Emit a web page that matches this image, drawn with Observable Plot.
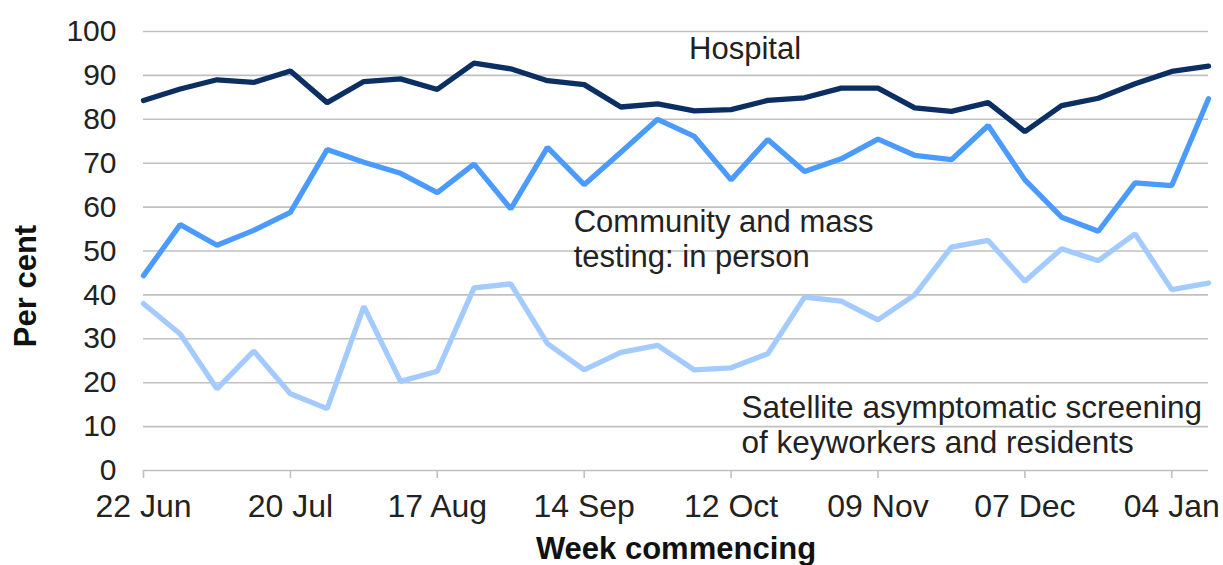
<!DOCTYPE html>
<html>
<head>
<meta charset="utf-8">
<script src="https://cdn.jsdelivr.net/npm/d3@7"></script>
<script src="https://cdn.jsdelivr.net/npm/@observablehq/plot@0.6"></script>
<style>
  html, body { margin: 0; padding: 0; background: white; }
</style>
</head>
<body>
<div id="chart"></div>
<script>
const weeks = ["2020-06-22","2020-06-29","2020-07-06","2020-07-13","2020-07-20","2020-07-27","2020-08-03","2020-08-10","2020-08-17","2020-08-24","2020-08-31","2020-09-07","2020-09-14","2020-09-21","2020-09-28","2020-10-05","2020-10-12","2020-10-19","2020-10-26","2020-11-02","2020-11-09","2020-11-16","2020-11-23","2020-11-30","2020-12-07","2020-12-14","2020-12-21","2020-12-28","2021-01-04","2021-01-11"];
const hospital = [84.3, 86.9, 89.0, 88.4, 91.0, 83.8, 88.6, 89.2, 86.8, 92.8, 91.5, 88.8, 87.9, 82.8, 83.5, 81.9, 82.2, 84.3, 84.9, 87.1, 87.1, 82.6, 81.8, 83.8, 77.2, 83.1, 84.8, 88.1, 90.9, 92.1];
const community = [44.4, 56.0, 51.3, 54.7, 58.8, 73.1, 70.2, 67.7, 63.3, 69.8, 59.6, 73.6, 65.1, 72.5, 80.0, 76.1, 66.2, 75.4, 68.1, 71.0, 75.5, 71.8, 70.8, 78.6, 66.2, 57.7, 54.5, 65.5, 64.9, 84.7];
const satellite = [38.0, 31.1, 18.6, 27.2, 17.5, 14.1, 37.4, 20.3, 22.6, 41.6, 42.5, 28.9, 22.9, 26.9, 28.5, 22.9, 23.4, 26.6, 39.5, 38.6, 34.3, 40.0, 50.9, 52.4, 43.1, 50.5, 47.8, 53.9, 41.2, 42.7];
const xTickLabels = ["2020-06-22","2020-07-20","2020-08-17","2020-09-14","2020-10-12","2020-11-09","2020-12-07","2021-01-04"];
const yTicks = [0, 10, 20, 30, 40, 50, 60, 70, 80, 90, 100];
const seriesNames = ["Hospital", "Community and mass\ntesting: in person", "Satellite asymptomatic screening\nof keyworkers and residents"];

const parse = d3.utcParse("%Y-%m-%d");
const dates = weeks.map(parse);
const tickDates = xTickLabels.map(parse);
const rows = (vals) => vals.map((v, i) => ({week: dates[i], value: v}));

const font = "Liberation Sans, Arial, Helvetica, sans-serif";
const textColor = "#222";

const chart = Plot.plot({
  width: 1223,
  height: 565,
  marginLeft: 143,
  marginRight: 15,
  marginTop: 31,
  marginBottom: 95,
  style: {fontFamily: font, fontSize: "30px", color: textColor, background: "white", overflow: "visible"},
  x: {type: "utc", domain: [dates[0], dates[dates.length - 1]]},
  y: {domain: [0, 100]},
  marks: [
    Plot.gridY(yTicks, {stroke: "#c0c0c0", strokeOpacity: 1, strokeWidth: 1.6}),
    Plot.axisY(yTicks, {tickSize: 0, tickPadding: 27, label: null, fontSize: 30, fill: textColor}),
    Plot.axisX(tickDates, {tickSize: 8, tickPadding: 16, tickFormat: d3.utcFormat("%d %b"), label: null, fontSize: 32, stroke: "#c0c0c0", strokeWidth: 1.6, fill: textColor}),
    Plot.line(rows(satellite), {x: "week", y: "value", stroke: "#a3cbff", strokeWidth: 5.3, strokeLinejoin: "miter"}),
    Plot.line(rows(community), {x: "week", y: "value", stroke: "#4b9bff", strokeWidth: 5.3, strokeLinejoin: "miter"}),
    Plot.line(rows(hospital), {x: "week", y: "value", stroke: "#0b2e63", strokeWidth: 5.3, strokeLinejoin: "miter"}),
    Plot.text([seriesNames[0]], {x: () => parse("2020-10-04"), y: () => 96, text: d => d, textAnchor: "start", lineAnchor: "middle", fontSize: 31, fill: textColor}),
    Plot.text([seriesNames[1]], {x: () => parse("2020-09-12"), y: () => 60, text: d => d, textAnchor: "start", lineAnchor: "top", lineHeight: 1.13, fontSize: 31, fill: textColor}),
    Plot.text([seriesNames[2]], {x: () => parse("2020-10-14"), y: () => 17.8, text: d => d, textAnchor: "start", lineAnchor: "top", lineHeight: 1.13, fontSize: 31.5, fill: textColor}),
    Plot.text(["Per cent"], {frameAnchor: "left", rotate: -90, dx: -117, dy: 35, textAnchor: "middle", lineAnchor: "middle", fontSize: 31, fontWeight: "bold", fill: "#111"}),
    Plot.text(["Week commencing"], {frameAnchor: "bottom", dy: 79, textAnchor: "middle", lineAnchor: "middle", fontSize: 31, fontWeight: "bold", fill: "#111"})
  ]
});
document.getElementById("chart").appendChild(chart);
</script>
</body>
</html>
